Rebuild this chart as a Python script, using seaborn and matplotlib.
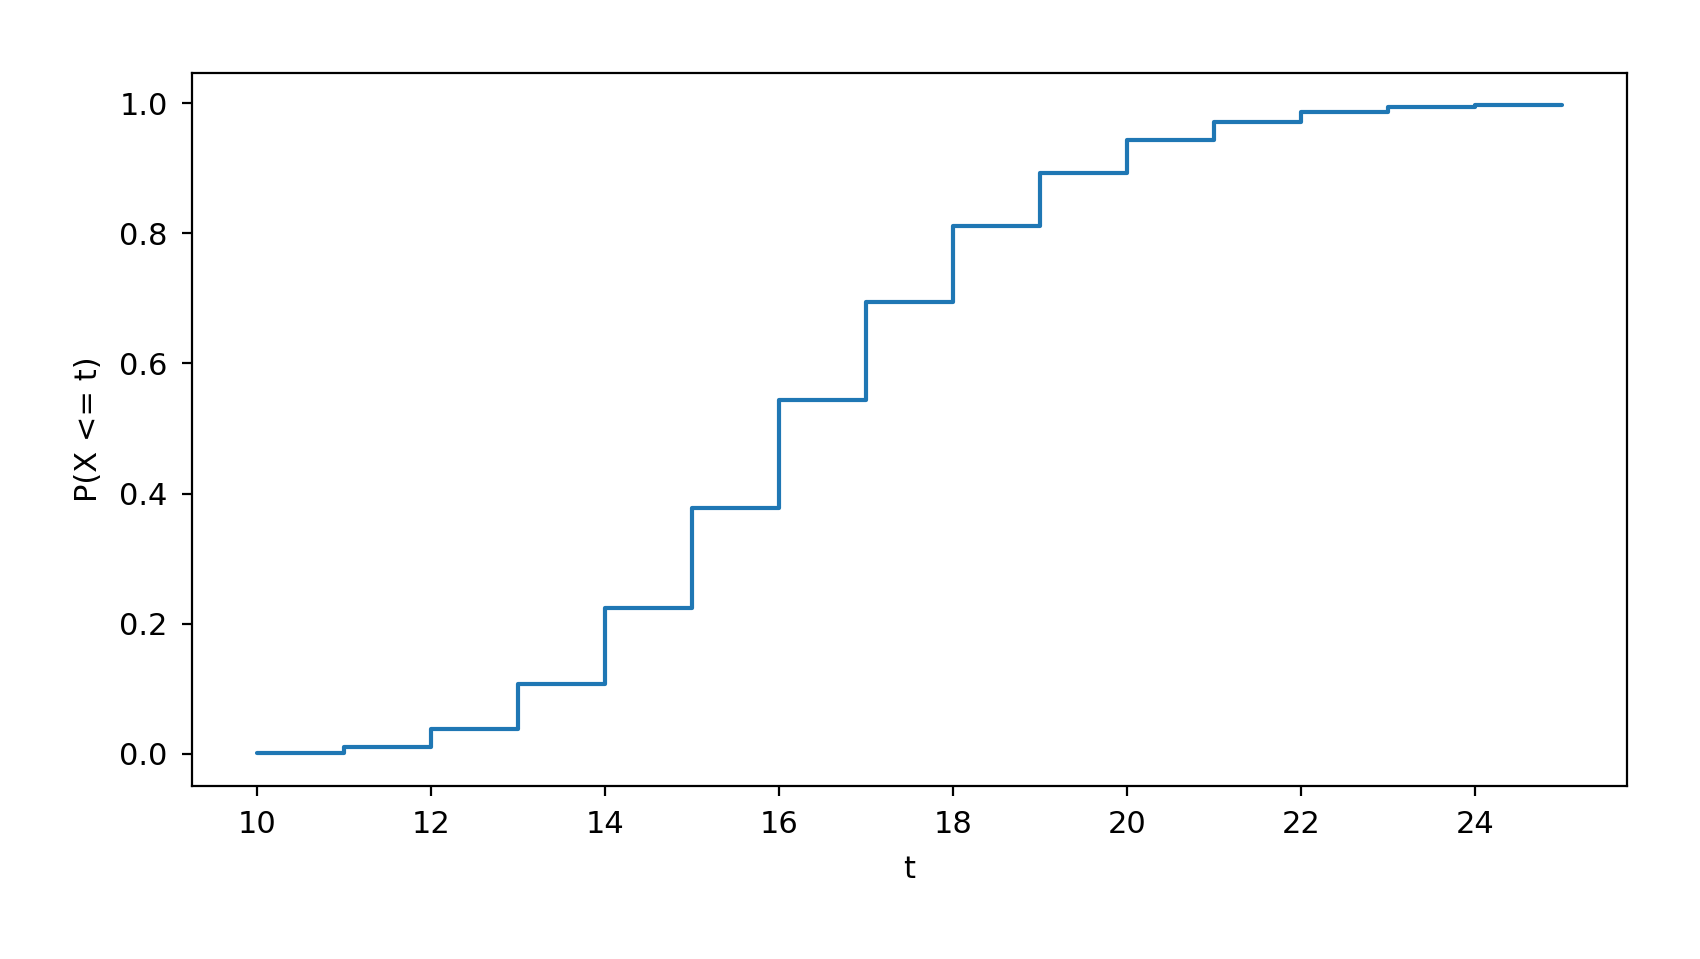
import numpy as np
import pandas as pd
import matplotlib
matplotlib.use("Agg")
import matplotlib.pyplot as plt
import seaborn as sns

# valores (CDF escalonada)
t_vals = [10, 11, 12, 13, 14, 15, 16, 17, 18, 19, 20, 21, 22, 23, 24, 25]
cdf_vals = [0.001, 0.010, 0.039, 0.108, 0.224, 0.378, 0.544, 0.694,
            0.812, 0.892, 0.943, 0.971, 0.987, 0.994, 0.997, 0.997]

df = pd.DataFrame({"t": t_vals, "cdf": cdf_vals})

sns.set_style("ticks", rc={
    "text.color": "black",
    "axes.labelcolor": "black",
    "axes.edgecolor": "black",
    "xtick.color": "black",
    "ytick.color": "black",
})
plt.rcParams["font.family"] = ["DejaVu Sans"]
plt.rcParams["font.size"] = 11

fig = plt.figure(figsize=(8.5, 4.795), dpi=200)
ax = fig.add_axes([0.1128, 0.1807, 0.9572 - 0.1128, 0.9242 - 0.1807])

sns.lineplot(data=df, x="t", y="cdf", ax=ax, color="#1f77b4",
             linewidth=1.5, drawstyle="steps-post", estimator=None)

ax.set_xticks(np.arange(10, 25, 2))
ax.set_yticks([0.0, 0.2, 0.4, 0.6, 0.8, 1.0])
ax.set_xlabel("t", fontsize=11, labelpad=5.8)
ax.set_ylabel("P(X <= t)", fontsize=11, labelpad=5.8)
ax.tick_params(labelsize=11, length=3.5, width=0.8, pad=5.2,
               color="black", labelcolor="black")
for s in ax.spines.values():
    s.set_visible(True)
    s.set_color("black")
    s.set_linewidth(0.8)

fig.savefig("out.png", dpi=200)
